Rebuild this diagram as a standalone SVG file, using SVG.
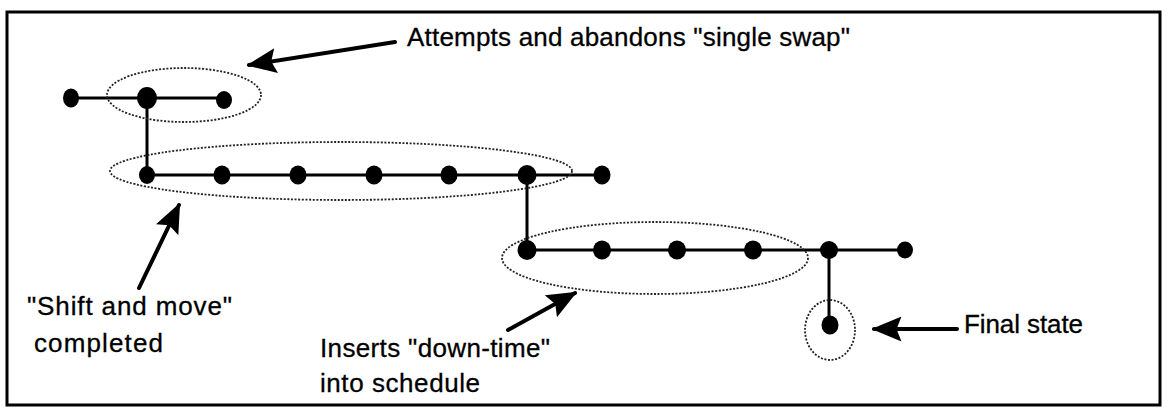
<svg xmlns="http://www.w3.org/2000/svg" width="1168" height="408" viewBox="0 0 1168 408">
  <defs>
    <style>
      .frame { fill: #fff; stroke: #000; stroke-width: 3; }
      .edge { stroke: #000; stroke-width: 3; fill: none; stroke-linecap: round; }
      .node { fill: #000; }
      .group { fill: none; stroke: #222; stroke-width: 1.8; stroke-dasharray: 2 1.6; }
      .pointer { stroke: #000; stroke-width: 4; fill: none; stroke-linecap: round; }
      .label { font-family: "Liberation Sans", Arial, sans-serif; font-size: 26px; fill: #000; stroke: #000; stroke-width: 0.3; }
    </style>
    <marker id="head" viewBox="0 0 12 10" refX="11" refY="5" markerWidth="7.5" markerHeight="6.25" markerUnits="strokeWidth" orient="auto">
      <path d="M0,0 L12,5 L0,10 L2,5 z" fill="#000"/>
    </marker>
  </defs>

  <rect class="frame" x="7" y="12" width="1153" height="393"/>

  <!-- edges between search states -->
  <g id="connectors">
    <path class="edge" d="M70,98 H223"/>
    <path class="edge" d="M147,98 V175"/>
    <path class="edge" d="M147,175 H602"/>
    <path class="edge" d="M527,175 V250"/>
    <path class="edge" d="M527,250 H905"/>
    <path class="edge" d="M829,250 V325"/>
  </g>

  <!-- search states, row by row -->
  <g id="n-r1-1"><ellipse class="node" cx="71" cy="98" rx="8" ry="9.5"/></g>
  <g id="n-r1-2"><ellipse class="node" cx="147" cy="98" rx="10" ry="11"/></g>
  <g id="n-r1-3"><ellipse class="node" cx="224" cy="100" rx="8" ry="9"/></g>

  <g id="n-r2-1"><ellipse class="node" cx="147" cy="175" rx="8" ry="9"/></g>
  <g id="n-r2-2"><ellipse class="node" cx="222" cy="175" rx="8.5" ry="9.5"/></g>
  <g id="n-r2-3"><ellipse class="node" cx="298" cy="175" rx="8.5" ry="9.5"/></g>
  <g id="n-r2-4"><ellipse class="node" cx="374" cy="175" rx="8.5" ry="9.5"/></g>
  <g id="n-r2-5"><ellipse class="node" cx="449" cy="175" rx="8.5" ry="9.5"/></g>
  <g id="n-r2-6"><ellipse class="node" cx="527" cy="175" rx="9.5" ry="10"/></g>
  <g id="n-r2-7"><ellipse class="node" cx="602" cy="175" rx="8.5" ry="9.5"/></g>

  <g id="n-r3-1"><ellipse class="node" cx="527" cy="250" rx="9.5" ry="10"/></g>
  <g id="n-r3-2"><ellipse class="node" cx="602" cy="250" rx="9" ry="9.5"/></g>
  <g id="n-r3-3"><ellipse class="node" cx="677" cy="250" rx="9" ry="9.5"/></g>
  <g id="n-r3-4"><ellipse class="node" cx="753" cy="250" rx="9" ry="9.5"/></g>
  <g id="n-r3-5"><ellipse class="node" cx="829" cy="250" rx="9" ry="9"/></g>
  <g id="n-r3-6"><ellipse class="node" cx="905" cy="250" rx="8" ry="8.5"/></g>

  <g id="n-final"><ellipse class="node" cx="830" cy="325" rx="8.5" ry="9.5"/></g>

  <!-- dotted groupings -->
  <g id="groups">
    <ellipse class="group" cx="184" cy="95" rx="77" ry="27"/>
    <ellipse class="group" cx="341" cy="171" rx="231" ry="29"/>
    <ellipse class="group" cx="655" cy="258" rx="153" ry="36"/>
    <ellipse class="group" cx="830" cy="330" rx="25" ry="30"/>
  </g>

  <!-- annotation pointers -->
  <g id="pointers">
    <line class="pointer" x1="395" y1="42" x2="249" y2="65" marker-end="url(#head)"/>
    <line class="pointer" x1="139" y1="288" x2="179" y2="205" marker-end="url(#head)"/>
    <line class="pointer" x1="508" y1="330" x2="575" y2="293" marker-end="url(#head)"/>
    <line class="pointer" x1="957" y1="329" x2="874" y2="329" marker-end="url(#head)"/>
  </g>

  <!-- annotations -->
  <g id="notes">
    <text class="label" x="407" y="46" textLength="443">Attempts and abandons "single swap"</text>
    <text class="label" x="27" y="315" textLength="205">"Shift and move"</text>
    <text class="label" x="34" y="352" textLength="129">completed</text>
    <text class="label" x="320" y="357" textLength="230">Inserts "down-time"</text>
    <text class="label" x="320" y="392" textLength="160">into schedule</text>
    <text class="label" x="964" y="333" textLength="119">Final state</text>
  </g>
</svg>
